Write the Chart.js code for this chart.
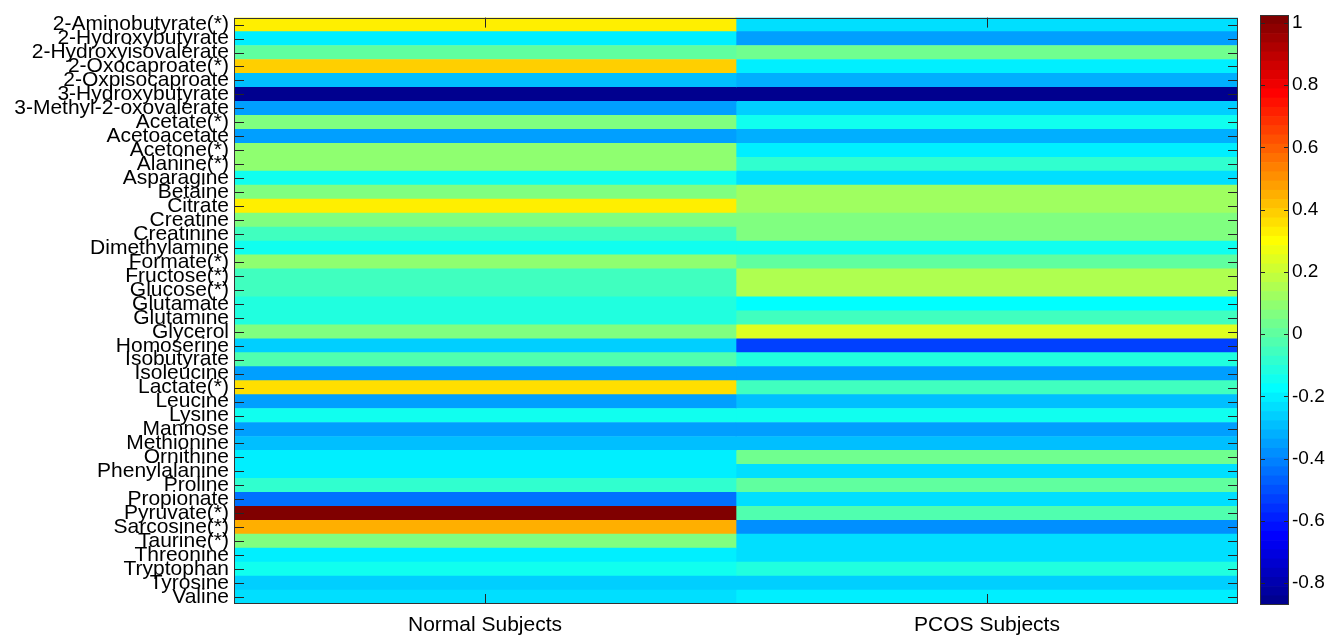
<!DOCTYPE html>
<html>
<head>
<meta charset="utf-8">
<script src="https://cdn.jsdelivr.net/npm/chart.js@4.4.1/dist/chart.umd.min.js"></script>
<style>
  html, body { margin: 0; padding: 0; background: #fff; }
  #wrap { position: relative; width: 1329px; height: 635px; }
  #heat { position: absolute; left: 0; top: 0; }
  #bar { position: absolute; left: 1250px; top: 0; }
</style>
</head>
<body>
<div id="wrap">
  <canvas id="heat" width="1250" height="635"></canvas>
  <canvas id="bar" width="79" height="635"></canvas>
</div>
<script>
// metabolites (rows) and the two groups (columns)
let metabolites = ['2-Aminobutyrate(*)', '2-Hydroxybutyrate', '2-Hydroxyisovalerate', '2-Oxocaproate(*)',
  '2-Oxpisocaproate', '3-Hydroxybutyrate', '3-Methyl-2-oxovalerate', 'Acetate(*)', 'Acetoacetate',
  'Acetone(*)', 'Alanine(*)', 'Asparagine', 'Betaine', 'Citrate', 'Creatine', 'Creatinine',
  'Dimethylamine', 'Formate(*)', 'Fructose(*)', 'Glucose(*)', 'Glutamate', 'Glutamine', 'Glycerol',
  'Homoserine', 'Isobutyrate', 'Isoleucine', 'Lactate(*)', 'Leucine', 'Lysine', 'Mannose',
  'Methionine', 'Ornithine', 'Phenylalanine', 'Proline', 'Propionate', 'Pyruvate(*)', 'Sarcosine(*)',
  'Taurine(*)', 'Threonine', 'Tryptophan', 'Tyrosine', 'Valine'];
let groups = ['Normal Subjects', 'PCOS Subjects'];

let normal = [0.34, -0.21, 0.01, 0.39, -0.28, -0.87, -0.36, 0.07, -0.35, 0.09,
  0.09, -0.13, 0.07, 0.32, 0.06, -0.045, -0.14, 0.09, -0.06, -0.06,
  -0.12, -0.12, 0.06, -0.27, -0.03, -0.36, 0.37, -0.34, -0.14, -0.35,
  -0.30, -0.20, -0.20, -0.10, -0.43, 1.025, 0.46, 0.06, -0.20, -0.15,
  -0.26, -0.22];
let pcos = [-0.22, -0.36, 0.04, -0.20, -0.32, -0.85, -0.27, -0.13, -0.32, -0.19,
  -0.08, -0.22, 0.11, 0.11, 0.05, 0.05, -0.14, -0.01, 0.15, 0.14,
  -0.16, -0.045, 0.25, -0.54, -0.12, -0.36, -0.05, -0.30, -0.14, -0.34,
  -0.30, 0.02, -0.23, -0.01, -0.22, -0.03, -0.37, -0.24, -0.23, -0.12,
  -0.25, -0.19];

let cbTicks = [-0.8, -0.6, -0.4, -0.2, 0, 0.2, 0.4, 0.6, 0.8, 1];
let cMin = -0.87, cMax = 1.025, nColors = 64;

Chart.defaults.font.family = "'Liberation Sans', Arial, sans-serif";
Chart.defaults.color = '#000';

// matlab style jet(64)
function jet(i) {
  let u = (k) => {
    if (k < 1 || k > 47) return 0;
    if (k <= 16) return k / 16;
    if (k <= 31) return 1;
    return (48 - k) / 16;
  };
  let n = i + 1;
  let r = u(n - 24), g = u(n - 8), b = u(n + 8);
  return 'rgb(' + Math.round(r * 255) + ',' + Math.round(g * 255) + ',' + Math.round(b * 255) + ')';
}
function colorFor(v) {
  let idx = Math.floor((v - cMin) / (cMax - cMin) * nColors);
  idx = Math.max(0, Math.min(nColors - 1, idx));
  return jet(idx);
}

// frame and inward tick marks like matlab axes
let frameTicks = {
  id: 'frameTicks',
  afterDraw(chart, args, opts) {
    let ctx = chart.ctx, a = chart.chartArea;
    ctx.save();
    ctx.strokeStyle = '#262626';
    ctx.lineWidth = 1;
    ctx.beginPath();
    let yScale = chart.scales.y;
    yScale.ticks.forEach((t, i) => {
      let y = Math.round(yScale.getPixelForTick(i)) + 0.5;
      ctx.moveTo(a.left, y); ctx.lineTo(a.left + opts.len, y);
      ctx.moveTo(a.right, y); ctx.lineTo(a.right - opts.len, y);
    });
    if (chart.scales.x.options.display) {
      let xScale = chart.scales.x;
      xScale.ticks.forEach((t) => {
        let x = Math.round(xScale.getPixelForValue(t.value)) + 0.5;
        ctx.moveTo(x, a.bottom); ctx.lineTo(x, a.bottom - opts.len);
        ctx.moveTo(x, a.top); ctx.lineTo(x, a.top + opts.len);
      });
    }
    ctx.stroke();
    ctx.strokeStyle = '#333';
    ctx.strokeRect(Math.round(a.left) + 0.5, Math.round(a.top) + 0.5,
      Math.round(a.right - a.left) - 1, Math.round(a.bottom - a.top) - 1);
    ctx.restore();
  }
};

let heatChart = new Chart(document.getElementById('heat'), {
  type: 'bar',
  data: {
    labels: metabolites,
    datasets: [normal, pcos].map((vals, c) => ({
      label: groups[c],
      data: vals.map(() => [c, c + 1]),
      backgroundColor: vals.map(colorFor),
      borderWidth: 0,
      grouped: false,
      barPercentage: 1,
      categoryPercentage: 1
    }))
  },
  options: {
    indexAxis: 'y',
    responsive: false,
    animation: false,
    devicePixelRatio: 1,
    layout: { padding: { top: 13, right: 12, left: 0, bottom: 0 } },
    plugins: {
      legend: { display: false },
      tooltip: { enabled: false },
      frameTicks: { len: 10 }
    },
    scales: {
      y: {
        type: 'category',
        grid: { display: false, drawTicks: false },
        border: { display: false },
        ticks: { autoSkip: false, padding: 5, font: { size: 21 }, color: '#000' },
        afterFit: (s) => { s.width = 234; }
      },
      x: {
        type: 'linear',
        min: 0,
        max: 2,
        grid: { display: false, drawTicks: false },
        border: { display: false },
        afterBuildTicks: (s) => { s.ticks = groups.map((g, i) => ({ value: i + 0.5 })); },
        ticks: {
          padding: 9,
          font: { size: 21 },
          color: '#000',
          callback: (v, i) => groups[i]
        },
        afterFit: (s) => { s.height = 31; }
      }
    }
  },
  plugins: [frameTicks]
});

// colour bar
let levels = [];
for (let i = 0; i < nColors; i++) {
  levels.push([cMin + (cMax - cMin) * i / nColors, cMin + (cMax - cMin) * (i + 1) / nColors]);
}

let barChart = new Chart(document.getElementById('bar'), {
  type: 'bar',
  data: {
    labels: [''],
    datasets: levels.map((lv, i) => ({
      data: [lv],
      backgroundColor: jet(i),
      borderWidth: 0,
      grouped: false,
      barPercentage: 1,
      categoryPercentage: 1
    }))
  },
  options: {
    responsive: false,
    animation: false,
    devicePixelRatio: 1,
    layout: { padding: { top: 15, left: 10, right: 0, bottom: 30 } },
    plugins: {
      legend: { display: false },
      tooltip: { enabled: false },
      frameTicks: { len: 5 }
    },
    scales: {
      x: { display: false },
      y: {
        position: 'right',
        min: cMin,
        max: cMax,
        grid: { display: false, drawTicks: false },
        border: { display: false },
        afterBuildTicks: (s) => { s.ticks = cbTicks.map((v) => ({ value: v })); },
        ticks: {
          padding: 3,
          font: { size: 19 },
          color: '#000',
          callback: (v) => String(+Number(v).toFixed(1))
        },
        afterFit: (s) => { s.width = 40; }
      }
    }
  },
  plugins: [frameTicks]
});
</script>
</body>
</html>
